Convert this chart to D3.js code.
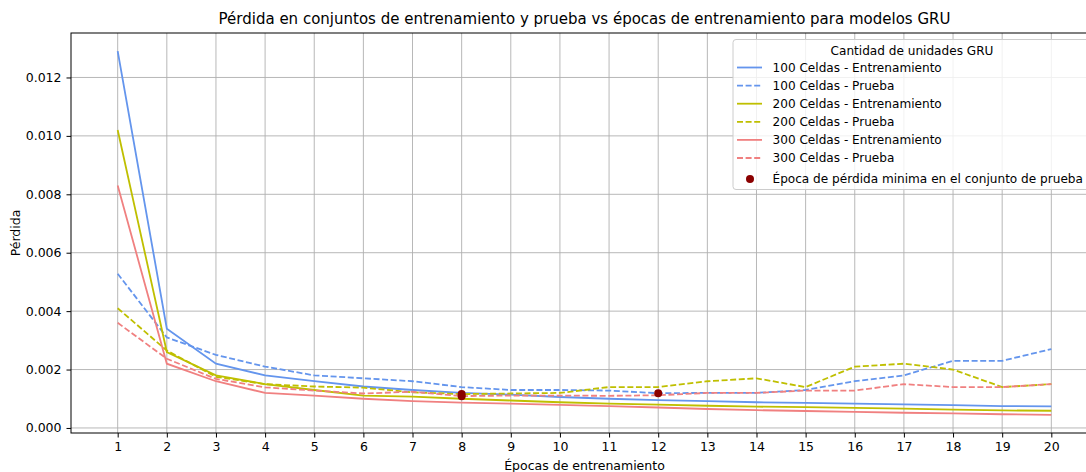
<!DOCTYPE html>
<html>
<head>
<meta charset="utf-8">
<script src="https://cdn.jsdelivr.net/npm/d3@7"></script>
<style>
  html, body { margin: 0; padding: 0; background: #fff; overflow: hidden; }
  svg { display: block; font-family: "DejaVu Sans", sans-serif; }
</style>
</head>
<body>
<svg id="chart" width="1086" height="472"></svg>
<script>
// Epochs on the x axis
const epochs = d3.range(1, 21);

// Loss per epoch, one array per model and split
const train100 = [0.0129, 0.0034, 0.0022, 0.0018, 0.0016, 0.00142, 0.0013, 0.0012, 0.00114, 0.00106,
                  0.0010, 0.00095, 0.00092, 0.00088, 0.00086, 0.00083, 0.00081, 0.00078, 0.00075, 0.00074];
const test100  = [0.00528, 0.0031, 0.0025, 0.0021, 0.0018, 0.0017, 0.0016, 0.0014, 0.0013, 0.0013,
                  0.00128, 0.00119, 0.0012, 0.0012, 0.0013, 0.0016, 0.0018, 0.0023, 0.0023, 0.0027];
const train200 = [0.0102, 0.0026, 0.0018, 0.0015, 0.0013, 0.00111, 0.00107, 0.0010, 0.00094, 0.00088,
                  0.00083, 0.0008, 0.00076, 0.00073, 0.00071, 0.00069, 0.00066, 0.00063, 0.0006, 0.00059];
const test200  = [0.0041, 0.00265, 0.00175, 0.0015, 0.00142, 0.00138, 0.00122, 0.00116, 0.00118, 0.0012,
                  0.0014, 0.0014, 0.0016, 0.0017, 0.0014, 0.0021, 0.0022, 0.002, 0.0014, 0.0015];
const train300 = [0.0083, 0.0022, 0.0016, 0.0012, 0.00111, 0.001, 0.00092, 0.00087, 0.00083, 0.00079,
                  0.00075, 0.0007, 0.00065, 0.00061, 0.00058, 0.00055, 0.00052, 0.0005, 0.00047, 0.00045];
const test300  = [0.0036, 0.00237, 0.00168, 0.00139, 0.00128, 0.00118, 0.00124, 0.00109, 0.00111, 0.00111,
                  0.0011, 0.00112, 0.0012, 0.0012, 0.00128, 0.00128, 0.0015, 0.0014, 0.0014, 0.0015];

const yTicks = [0.000, 0.002, 0.004, 0.006, 0.008, 0.010, 0.012];

const title = "Pérdida en conjuntos de entrenamiento y prueba vs épocas de entrenamiento para modelos GRU";
const xLabel = "Épocas de entrenamiento";
const yLabel = "Pérdida";
const legendTitle = "Cantidad de unidades GRU";
const minLabel = "Época de pérdida minima en el conjunto de prueba";

const series = [
  { name: "100 Celdas - Entrenamiento", values: train100, color: "#6495ED", dashed: false },
  { name: "100 Celdas - Prueba",        values: test100,  color: "#6495ED", dashed: true },
  { name: "200 Celdas - Entrenamiento", values: train200, color: "#BFBF00", dashed: false },
  { name: "200 Celdas - Prueba",        values: test200,  color: "#BFBF00", dashed: true },
  { name: "300 Celdas - Entrenamiento", values: train300, color: "#F08080", dashed: false },
  { name: "300 Celdas - Prueba",        values: test300,  color: "#F08080", dashed: true }
];

const svg = d3.select("#chart");
const plot = { left: 71, right: 1098, top: 33, bottom: 433 };

// 5% padding around the data range on both axes
const allVals = series.flatMap(s => s.values);
const yMin = d3.min(allVals), yMax = d3.max(allVals);
const yPad = (yMax - yMin) * 0.05;
const x = d3.scaleLinear().domain([1 - 0.95, 20 + 0.95]).range([plot.left, plot.right]);
const y = d3.scaleLinear().domain([yMin - yPad, yMax + yPad]).range([plot.bottom, plot.top]);

// Grid
const grid = svg.append("g").attr("stroke", "#b0b0b0").attr("stroke-width", 0.9);
grid.selectAll("line.v").data(epochs).join("line")
  .attr("x1", d => x(d)).attr("x2", d => x(d))
  .attr("y1", plot.top).attr("y2", plot.bottom);
grid.selectAll("line.h").data(yTicks).join("line")
  .attr("x1", plot.left).attr("x2", plot.right)
  .attr("y1", d => y(d)).attr("y2", d => y(d));

// Lines
const line = d3.line().x((d, i) => x(epochs[i])).y(d => y(d));
svg.append("g").selectAll("path").data(series).join("path")
  .attr("d", d => line(d.values))
  .attr("fill", "none")
  .attr("stroke", d => d.color)
  .attr("stroke-width", 1.8)
  .attr("stroke-dasharray", d => d.dashed ? "6,2.6" : null);

// Minimum test-loss epoch for each model
const minima = series.filter(s => s.dashed).map(s => {
  const i = d3.minIndex(s.values);
  return { epoch: epochs[i], value: s.values[i] };
});
svg.append("g").selectAll("circle").data(minima).join("circle")
  .attr("cx", d => x(d.epoch)).attr("cy", d => y(d.value))
  .attr("r", 4).attr("fill", "#8B0000");

// Axes
const xAxis = d3.axisBottom(x).tickValues(epochs).tickFormat(d3.format("d")).tickSize(4.5).tickPadding(5);
const yAxis = d3.axisLeft(y).tickValues(yTicks).tickFormat(d3.format(".3f")).tickSize(4.5).tickPadding(5);

const gx = svg.append("g").attr("transform", `translate(0,${plot.bottom})`).call(xAxis);
const gy = svg.append("g").attr("transform", `translate(${plot.left},0)`).call(yAxis);
[gx, gy].forEach(g => {
  g.select(".domain").remove();
  g.selectAll("text").attr("font-size", 12.5).attr("font-family", "DejaVu Sans").attr("fill", "#000");
  g.selectAll("line").attr("stroke", "#000").attr("stroke-width", 1);
});

// Frame
svg.append("rect")
  .attr("x", plot.left).attr("y", plot.top)
  .attr("width", plot.right - plot.left).attr("height", plot.bottom - plot.top)
  .attr("fill", "none").attr("stroke", "#000").attr("stroke-width", 1);

// Titles
svg.append("text").attr("x", (plot.left + plot.right) / 2).attr("y", 24)
  .attr("text-anchor", "middle").attr("font-size", 15).text(title);
svg.append("text").attr("x", (plot.left + plot.right) / 2).attr("y", 470)
  .attr("text-anchor", "middle").attr("font-size", 12.5).text(xLabel);
svg.append("text").attr("transform", `translate(20,${(plot.top + plot.bottom) / 2}) rotate(-90)`)
  .attr("text-anchor", "middle").attr("font-size", 12.5).text(yLabel);

// Legend
const legendFont = 12.1;
const lg = svg.append("g").attr("transform", "translate(733,39.5)");
lg.append("rect").attr("x", 0).attr("y", 0).attr("width", 358).attr("height", 150)
  .attr("rx", 3).attr("fill", "#fff").attr("fill-opacity", 0.8)
  .attr("stroke", "#cccccc").attr("stroke-width", 1);
lg.append("text").attr("x", 179).attr("y", 15).attr("text-anchor", "middle")
  .attr("font-size", legendFont).text(legendTitle);
const rowY = i => 28 + i * 18.1;
const rows = lg.selectAll("g.row").data(series).join("g")
  .attr("transform", (d, i) => `translate(0,${rowY(i)})`);
rows.append("line").attr("x1", 4).attr("x2", 29).attr("y1", 0).attr("y2", 0)
  .attr("stroke", d => d.color).attr("stroke-width", 1.8)
  .attr("stroke-dasharray", d => d.dashed ? "6,2.6" : null);
rows.append("text").attr("x", 39.5).attr("y", 4.4).attr("font-size", legendFont).text(d => d.name);
const dotRow = lg.append("g").attr("transform", `translate(0,${rowY(6) + 2.8})`);
dotRow.append("circle").attr("cx", 17).attr("cy", 0).attr("r", 4).attr("fill", "#8B0000");
dotRow.append("text").attr("x", 39.5).attr("y", 4.4).attr("font-size", legendFont).text(minLabel);
</script>
</body>
</html>
